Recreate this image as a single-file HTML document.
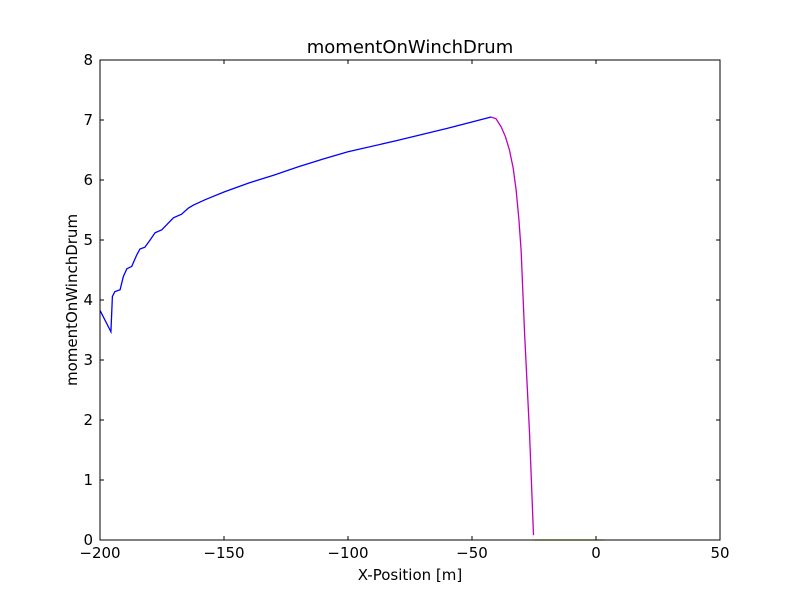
<!DOCTYPE html>
<html><head><meta charset="utf-8"><style>body{margin:0;background:#fff}svg{display:block;font-family:"DejaVu Sans","Liberation Sans",sans-serif}</style></head>
<body>
<svg id="c" width="800" height="600">
<rect x="0" y="0" width="800" height="600" fill="#fff"/>
</svg>
<script>
const xTicks=[-200,-150,-100,-50,0,50];
const xTickLabels=["\u2212200","\u2212150","\u2212100","\u221250","0","50"];
const yTicks=[0,1,2,3,4,5,6,7,8];
const blueX=[-199.9,-195.6,-195.0,-194.0,-191.9,-190.6,-189.2,-187.2,-185.2,-183.9,-181.9,-179.8,-177.8,-175.1,-172.5,-170.4,-167.1,-164.4,-162.4,-157.7,-150,-140,-130,-120,-110,-100,-80,-60,-42.3];
const blueY=[3.82,3.47,4.06,4.14,4.17,4.39,4.52,4.56,4.75,4.85,4.88,5.0,5.12,5.17,5.28,5.37,5.43,5.53,5.58,5.67,5.8,5.95,6.08,6.22,6.35,6.47,6.66,6.86,7.05];
const magX=[-42.3,-40.3,-38.3,-36.5,-34.9,-33.4,-32.2,-31.1,-30.2,-28.8,-26.8,-25.2];
const magY=[7.05,7.02,6.89,6.72,6.5,6.2,5.83,5.35,4.83,3.45,1.78,0.08];
const oliveX=[-25.2,3];
const oliveY=[0,0];
const L=100,R=720,T=60,B=540,xmin=-200,xmax=50,ymin=0,ymax=8;
const sx=v=>L+(v-xmin)/(xmax-xmin)*(R-L);
const sy=v=>B-(v-ymin)/(ymax-ymin)*(B-T);
const svg=document.getElementById('c');
const NS='http://www.w3.org/2000/svg';
function mk(t,a){const e=document.createElementNS(NS,t);for(const k in a)e.setAttribute(k,a[k]);svg.appendChild(e);return e;}
function series(xs,ys,color,name){
  const p=mk('polyline',{points:xs.map((x,i)=>sx(x)+','+sy(ys[i])).join(' '),fill:'none',stroke:color,'stroke-width':1.3});
  
  
}
series(blueX,blueY,'#0000ff','series-blue');
series(magX,magY,'#bf00bf','series-magenta');
series(oliveX,oliveY,'#bfbf00','series-olive');
const fr=mk('rect',{x:L,y:T,width:R-L,height:B-T,fill:'none',stroke:'#000','stroke-width':1});


xTicks.forEach((v,i)=>{
  const x=sx(v);
  mk('line',{x1:x,x2:x,y1:B,y2:B-4,stroke:'#000'});
  mk('line',{x1:x,x2:x,y1:T,y2:T+4,stroke:'#000'});
  const t=mk('text',{x:x,y:B+18,'font-size':15,'text-anchor':'middle'});
  t.textContent=xTickLabels[i];
  
  
});
yTicks.forEach(v=>{
  const y=sy(v);
  mk('line',{x1:L,x2:L+4,y1:y,y2:y,stroke:'#000'});
  mk('line',{x1:R,x2:R-4,y1:y,y2:y,stroke:'#000'});
  const t=mk('text',{x:L-7,y:y+5,'font-size':15,'text-anchor':'end'});
  t.textContent=String(v);
  
  
});
const ti=mk('text',{x:410,y:53,'font-size':18,'text-anchor':'middle'});
ti.textContent='momentOnWinchDrum';


const xl=mk('text',{x:410,y:580,'font-size':15,'text-anchor':'middle'});
xl.textContent='X-Position [m]';


const yl=mk('text',{x:0,y:0,'font-size':15,'text-anchor':'middle',transform:'translate(77,300) rotate(-90)'});
yl.textContent='momentOnWinchDrum';


</script>
</body></html>
